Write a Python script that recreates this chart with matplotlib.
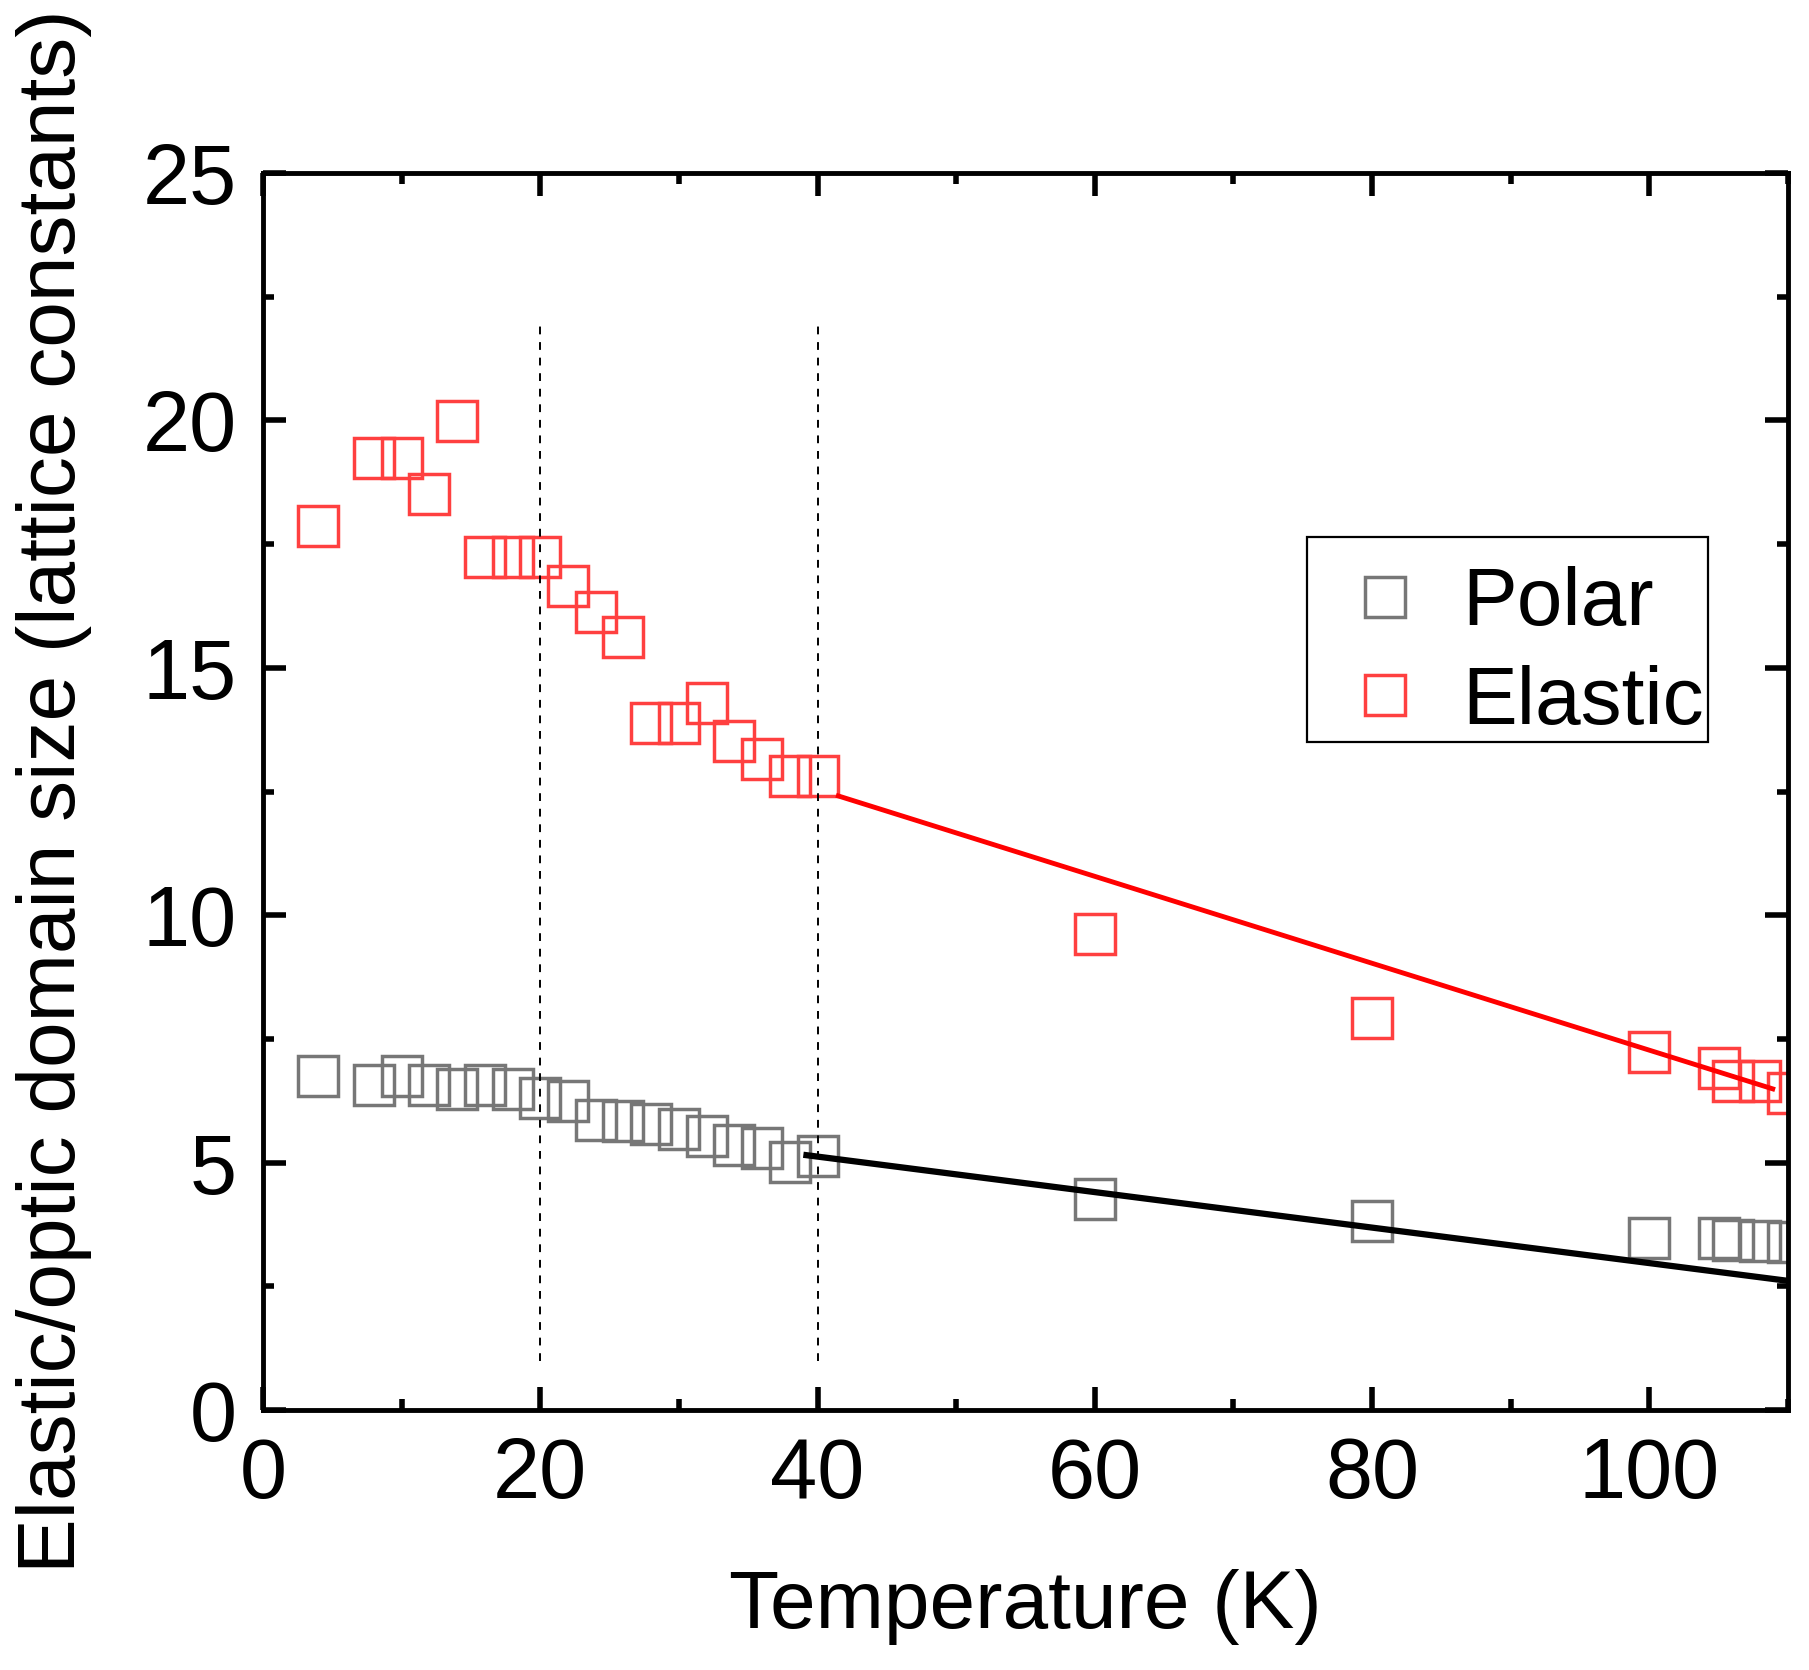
import matplotlib
matplotlib.use("Agg")
import matplotlib.pyplot as plt
from matplotlib.patches import Rectangle
from matplotlib.ticker import MultipleLocator

plt.rcParams["font.family"] = ["Liberation Sans", "DejaVu Sans"]

# temperatures (K)
temperature = [4, 8, 10, 12, 14, 16, 18, 20, 22, 24, 26, 28, 30, 32, 34, 36, 38, 40,
               60, 80, 100, 105, 106, 108, 110]

# domain sizes (lattice constants)
polar_size = [6.75, 6.56, 6.75, 6.56, 6.48, 6.56, 6.48, 6.31, 6.25, 5.87, 5.84, 5.79,
              5.68, 5.53, 5.36, 5.30, 5.02, 5.14, 4.27, 3.81, 3.47, 3.47, 3.43, 3.42, 3.40]
elastic_size = [17.86, 19.24, 19.24, 18.51, 19.99, 17.24, 17.24, 17.24, 16.66, 16.12,
                15.63, 13.88, 13.88, 14.28, 13.52, 13.15, 12.82, 12.82, 9.61, 7.93,
                7.24, 6.92, 6.65, 6.65, 6.41]

# linear fits above 40 K
polar_fit_x = [39.2, 110]
polar_fit_y = [5.15, 2.61]
elastic_fit_x = [41.5, 108.9]
elastic_fit_y = [12.41, 6.49]

# guide lines
guide_x = [20, 40]
guide_ymin = 1
guide_ymax = 22

W, H = 1809, 1670
fig = plt.figure(figsize=(W / 100, H / 100), dpi=100)
ax = fig.add_axes([263 / W, 1 - 1410 / H, (1788 - 263) / W, (1410 - 173) / H])

ax.plot(temperature, polar_size, linestyle="none", marker="s", markersize=28.5,
        markerfacecolor="none", markeredgecolor="#777777", markeredgewidth=2.5,
        label="Polar")
ax.plot(temperature, elastic_size, linestyle="none", marker="s", markersize=28.5,
        markerfacecolor="none", markeredgecolor="#ff4040", markeredgewidth=2.5,
        label="Elastic")

ax.plot(polar_fit_x, polar_fit_y, color="black", linewidth=4.5)
ax.plot(elastic_fit_x, elastic_fit_y, color="red", linewidth=3.5)

for gx in guide_x:
    ax.vlines(gx, guide_ymin, guide_ymax, colors="black", linestyles=(0, (4, 4)),
              linewidth=1.4)

ax.set_xlim(0, 110)
ax.set_ylim(0, 25)
ax.xaxis.set_major_locator(MultipleLocator(20))
ax.xaxis.set_minor_locator(MultipleLocator(10))
ax.yaxis.set_major_locator(MultipleLocator(5))
ax.yaxis.set_minor_locator(MultipleLocator(2.5))

ax.tick_params(which="both", direction="in", top=True, right=True, width=4,
               labelsize=61, pad=19)
ax.tick_params(which="major", length=16.5)
ax.tick_params(which="minor", length=8)
for spine in ax.spines.values():
    spine.set_linewidth(3.5)

ax.set_xlabel("Temperature (K)", fontsize=59, labelpad=38)
ax.set_ylabel("Elastic/optic domain size (lattice constants)", fontsize=59, labelpad=36)

# legend without its own frame, box drawn separately
leg = ax.legend(loc="upper left", bbox_to_anchor=(1307 / W, 1 - 550 / H),
                bbox_transform=fig.transFigure, borderaxespad=0, fontsize=59,
                frameon=False, borderpad=0.2, handlelength=1.5, handletextpad=0.2,
                labelspacing=0.27)
fig.patches.append(Rectangle((1307 / W, 1 - 742 / H), (1708 - 1307) / W, (742 - 537) / H,
                             transform=fig.transFigure, fill=False,
                             edgecolor="black", linewidth=1.6))

fig.savefig("out.png", dpi=100)
